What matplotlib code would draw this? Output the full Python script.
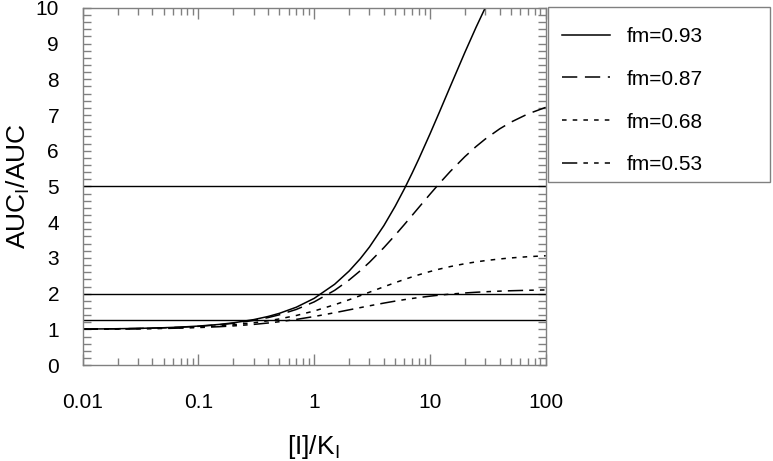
import matplotlib
matplotlib.use("Agg")
import matplotlib.pyplot as plt
from matplotlib.patches import Rectangle
from matplotlib.ticker import LogLocator, MultipleLocator, FixedLocator, FixedFormatter, NullFormatter

plt.rcParams['font.family'] = ['Liberation Sans', 'DejaVu Sans']
plt.rcParams['mathtext.fontset'] = 'custom'
plt.rcParams['mathtext.rm'] = 'Liberation Sans'
plt.rcParams['mathtext.it'] = 'Liberation Sans'

# ---- data ----
x_vals = [0.01, 0.015, 0.02, 0.03, 0.05, 0.07, 0.1, 0.15, 0.2, 0.3, 0.4, 0.5, 0.7,
          1, 1.5, 2, 2.5, 3, 4, 5, 6, 7, 8, 10, 12, 15, 20, 25, 30, 40, 50, 70, 100]

y_fm093 = [1.0093, 1.0139, 1.0186, 1.0278, 1.0463, 1.0648, 1.0924, 1.1380, 1.1834,
           1.2733, 1.3619, 1.4493, 1.6206, 1.8692, 2.2624, 2.6316, 2.9787, 3.3058,
           3.9063, 4.4444, 4.9296, 5.3691, 5.7692, 6.4706, 7.0652, 7.8049, 8.75,
           9.4545, 10.0, 10.789, 11.333, 11.95, 12.6]
y_fm087 = [1.0087, 1.0130, 1.0174, 1.0260, 1.0432, 1.0604, 1.0859, 1.1280, 1.1696,
           1.2512, 1.3308, 1.4085, 1.5582, 1.7699, 2.0921, 2.3810, 2.6415, 2.8777,
           3.2895, 3.6364, 3.9326, 4.1885, 4.4118, 4.7826, 5.0781, 5.4237, 5.8333,
           6.1176, 6.3265, 6.6129, 6.8000, 7.0297, 7.2143]
y_fm068 = [1.0068, 1.0102, 1.0135, 1.0202, 1.0335, 1.0466, 1.0659, 1.0973, 1.1278,
           1.1861, 1.2411, 1.2931, 1.3889, 1.5152, 1.6892, 1.8293, 1.9444, 2.0408,
           2.1930, 2.3077, 2.3973, 2.4691, 2.5281, 2.6190, 2.6860, 2.7586, 2.8378,
           2.8889, 2.9245, 2.9710, 3.0, 3.0342, 3.0606]
y_fm053 = [1.0053, 1.0079, 1.0105, 1.0157, 1.0259, 1.0359, 1.0506, 1.0743, 1.0969,
           1.1394, 1.1785, 1.2146, 1.2792, 1.3605, 1.4663, 1.5464, 1.6092, 1.6598,
           1.7361, 1.7910, 1.8325, 1.8648, 1.8908, 1.9298, 1.9578, 1.9876, 2.0192,
           2.0392, 2.0530, 2.0707, 2.0816, 2.0944, 2.1042]

series_labels = ["fm=0.93", "fm=0.87", "fm=0.68", "fm=0.53"]
ref_levels = [5, 2, 1.25]

x_ticks = [0.01, 0.1, 1, 10, 100]
x_ticklabels = ["0.01", "0.1", "1", "10", "100"]
y_ticks = list(range(0, 11))

# ---- figure ----
W, H = 773, 461
fig = plt.figure(figsize=(W / 100, H / 100), dpi=100)
ax = fig.add_axes([0.107, 0.208, 0.599, 0.775])

for lvl in ref_levels:
    ax.plot([x_vals[0], x_vals[-1]], [lvl, lvl], color='black', lw=1.0)

styles = [
    dict(linestyle='-'),
    dict(linestyle=(0, (10, 5))),
    dict(linestyle=(0, (3, 4))),
    dict(linestyle=(0, (10, 4, 3, 4, 3, 4))),
]
series = [y_fm093, y_fm087, y_fm068, y_fm053]
handles = []
for ys, lab, st in zip(series, series_labels, styles):
    h, = ax.plot(x_vals, ys, color='black', lw=1.1, label=lab, **st)
    handles.append(h)

ax.set_xscale('log')
ax.set_xlim(0.01, 100)
ax.set_ylim(0, 10)

ax.xaxis.set_major_locator(FixedLocator(x_ticks))
ax.xaxis.set_major_formatter(FixedFormatter(x_ticklabels))
ax.xaxis.set_minor_locator(LogLocator(base=10, subs=range(2, 10)))
ax.xaxis.set_minor_formatter(NullFormatter())
ax.yaxis.set_major_locator(FixedLocator(y_ticks))
ax.yaxis.set_minor_locator(MultipleLocator(0.2))

gray = '#808080'
for sp in ax.spines.values():
    sp.set_color(gray)
    sp.set_linewidth(1.0)

ax.tick_params(axis='both', which='both', direction='in', color=gray,
               top=True, right=True, width=1.0)
ax.tick_params(axis='x', which='major', length=8, pad=20, labelsize=15)
ax.tick_params(axis='x', which='minor', length=5)
ax.tick_params(axis='y', which='major', length=6, pad=17, labelsize=15)
ax.tick_params(axis='y', which='minor', length=6)

ax.set_xlabel("[I]/K$_\\mathrm{I}$", fontsize=19)
ax.set_ylabel("AUC$_\\mathrm{I}$/AUC", fontsize=19)
ax.xaxis.set_label_coords(0.497, -0.19)
ax.yaxis.set_label_coords(-0.110, 0.5)

# legend frame drawn separately (reference box is asymmetric around the rows)
fig.patches.append(Rectangle((548 / W, 1 - 182 / H), (770 - 548) / W, (182 - 7) / H,
                             transform=fig.transFigure, fill=False,
                             edgecolor=gray, linewidth=1.0))
leg = fig.legend(handles=handles, loc='upper left',
                 bbox_to_anchor=(562 / W, 1 - 27 / H),
                 fontsize=15, frameon=False,
                 handlelength=2.3, handletextpad=0.8, labelspacing=1.14,
                 borderpad=0.0, borderaxespad=0.0)

fig.savefig("out.png", dpi=100)
